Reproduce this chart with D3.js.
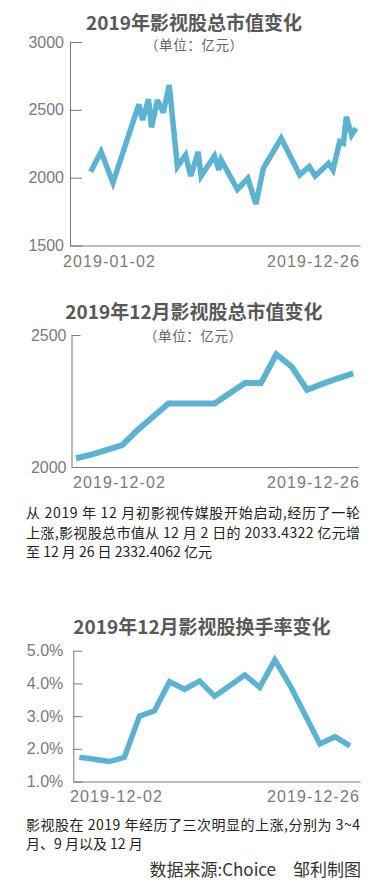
<!DOCTYPE html>
<html><head><meta charset="utf-8">
<script src="https://cdn.jsdelivr.net/npm/d3@7"></script>
<style>
html,body{margin:0;padding:0;background:#fff;}
svg{display:block;}
text{font-family:"Liberation Sans","Noto Sans CJK SC",Arial,sans-serif;}
.cjk{font-family:"Noto Sans CJK SC","Liberation Sans",sans-serif;}
</style>
</head><body>
<script>
// ---------- DATA ----------
const yearDates = ["2019-01-02","2019-01-16","2019-02-01","2019-03-08","2019-03-13","2019-03-21","2019-03-25","2019-04-02","2019-04-10","2019-04-18","2019-04-29","2019-05-10","2019-05-17","2019-05-27","2019-05-31","2019-06-18","2019-06-24","2019-06-27","2019-07-19","2019-08-02","2019-08-13","2019-08-23","2019-09-16","2019-10-11","2019-10-24","2019-11-01","2019-11-19","2019-11-25","2019-12-04","2019-12-09","2019-12-13","2019-12-20","2019-12-26"];
const yearCap = [2044,2191,1963,2541,2425,2578,2371,2572,2479,2683,2081,2167,2012,2191,2012,2160,2057,2130,1914,1995,1806,2069,2290,2020,2081,2012,2106,2057,2265,2253,2449,2315,2364];
const yearTicks = [1500,2000,2500,3000];
const yearXLabels = ["2019-01-02","2019-12-26"];

const decDates = ["12-02","12-03","12-04","12-05","12-06","12-09","12-10","12-11","12-12","12-13","12-16","12-17","12-18","12-19","12-20","12-23","12-24","12-25","12-26"];
const decCap = [2033,2047,2065,2083,2140,2190,2241,2241,2241,2241,2280,2319,2317,2427,2380,2292,2315,2336,2355];
const decCapTicks = [2000,2500];
const decTurnover = [1.74,1.68,1.61,1.74,3.0,3.16,4.05,3.82,4.07,3.61,3.93,4.26,3.88,4.72,3.95,3.05,2.15,2.37,2.09];
const turnoverTicks = [1,2,3,4,5];
const decXLabels = ["2019-12-02","2019-12-26"];

const titles = ["2019年影视股总市值变化","2019年12月影视股总市值变化","2019年12月影视股换手率变化"];
const unitText = "（单位：亿元）";
const note1 = ["从 2019 年 12 月初影视传媒股开始启动,经历了一轮","上涨,影视股总市值从 12 月 2 日的 2033.4322 亿元增","至 12 月 26 日 2332.4062 亿元"];
const note2 = ["影视股在 2019 年经历了三次明显的上涨,分别为 3~4","月、9 月以及 12 月"];
const source = "数据来源:Choice　邹利制图";

// ---------- DRAW ----------
const W = 379, H = 886;
const svg = d3.select("body").append("svg").attr("width", W).attr("height", H);
const lineColor = "#5bb3d1", axisColor = "#7a7a7a", tickText = "#7a7a7a";

function yAxis(g, y, x0, ticks, fmt, pad, inner) {
  const ax = g.append("g").attr("transform", `translate(${x0},0)`)
    .call(d3.axisLeft(y).tickValues(ticks).tickFormat(fmt).tickSizeOuter(0).tickSizeInner(-inner).tickPadding(pad));
  ax.select(".domain").attr("stroke", axisColor);
  ax.selectAll(".tick line").attr("stroke", axisColor);
  ax.selectAll(".tick text").attr("fill", tickText).attr("font-size", 16)
    .style("font-family", "'Liberation Sans',Arial,sans-serif");
}
function xAxisLine(g, x0, x1, yPos, labels, l0, l1, ly) {
  const xs = d3.scaleLinear().domain([0, 1]).range([x0, x1]);
  const ax = g.append("g").attr("transform", `translate(0,${yPos})`)
    .call(d3.axisBottom(xs).tickValues([]).tickSizeOuter(0));
  ax.select(".domain").attr("stroke", axisColor);
  g.append("text").attr("x", l0).attr("y", ly).attr("text-anchor", "start")
    .attr("fill", tickText).attr("font-size", 16).attr("textLength", 92).attr("lengthAdjust", "spacing").text(labels[0]);
  g.append("text").attr("x", l1).attr("y", ly).attr("text-anchor", "end")
    .attr("fill", tickText).attr("font-size", 16).attr("textLength", 92).attr("lengthAdjust", "spacing").text(labels[1]);
}
function title(txt, cx, y) {
  svg.append("text").attr("class", "cjk").attr("x", cx).attr("y", y).attr("text-anchor", "middle")
    .attr("font-size", 19).attr("font-weight", "bold").attr("fill", "#585858").text(txt);
}
function unit(cx, y) {
  svg.append("text").attr("class", "cjk").attr("x", cx).attr("y", y).attr("text-anchor", "middle")
    .attr("font-size", 13.5).attr("fill", "#666").attr("textLength", 98).attr("lengthAdjust", "spacing").text(unitText);
}
function pathOf(xf, yf, vals) {
  return d3.line().x((d, i) => xf(i)).y(d => yf(d)).curve(d3.curveLinear)(vals);
}

// Chart 1
title(titles[0], 194, 30);
unit(194, 49.5);
{
  const g = svg.append("g");
  const parse = d3.timeParse("%Y-%m-%d");
  const dates = yearDates.map(parse);
  const x = d3.scaleTime().domain([dates[0], dates[dates.length - 1]]).range([90.7, 356]);
  const y = d3.scaleLinear().domain([1500, 3000]).range([245.5, 42]);
  yAxis(g, y, 70, yearTicks, d3.format("d"), 6, 12);
  xAxisLine(g, 70, 360, 245.5, yearXLabels, 63, 359, 267);
  g.append("path").attr("d", pathOf(i => x(dates[i]), y, yearCap))
    .attr("fill", "none").attr("stroke", lineColor).attr("stroke-width", 5.5)
    .attr("stroke-linejoin", "miter").attr("stroke-miterlimit", 3);
}

// Chart 2
title(titles[1], 194, 319);
unit(193, 340.5);
{
  const g = svg.append("g");
  const x = d3.scalePoint().domain(decDates).range([76, 353.3]);
  const y = d3.scaleLinear().domain([2000, 2500]).range([467, 335]);
  yAxis(g, y, 71.5, decCapTicks, d3.format("d"), 5, 9);
  xAxisLine(g, 71.5, 358, 467, decXLabels, 73, 359, 488);
  g.append("path").attr("d", pathOf(i => x(decDates[i]), y, decCap))
    .attr("fill", "none").attr("stroke", lineColor).attr("stroke-width", 6)
    .attr("stroke-linejoin", "miter").attr("stroke-miterlimit", 3);
}

// Note 1
note1.forEach((t, i) => {
  const el = svg.append("text").attr("class", "cjk").attr("x", 26).attr("y", 518 + i * 19.5)
    .attr("font-size", 14).attr("fill", "#222").text(t);
  if (i < note1.length - 1) el.attr("textLength", 334).attr("lengthAdjust", "spacing");
});

// Chart 3
title(titles[2], 202, 634);
{
  const g = svg.append("g");
  const x = d3.scalePoint().domain(decDates).range([79.3, 350]);
  const y = d3.scaleLinear().domain([1, 5]).range([781.5, 650.7]);
  yAxis(g, y, 73.3, turnoverTicks, d => d.toFixed(1) + "%", 10, 9);
  xAxisLine(g, 73.3, 360, 781.5, decXLabels, 70, 359, 802);
  g.append("path").attr("d", pathOf(i => x(decDates[i]), y, decTurnover))
    .attr("fill", "none").attr("stroke", lineColor).attr("stroke-width", 5.5)
    .attr("stroke-linejoin", "miter").attr("stroke-miterlimit", 3);
}

// Note 2
note2.forEach((t, i) => {
  const el = svg.append("text").attr("class", "cjk").attr("x", 26).attr("y", 830 + i * 19)
    .attr("font-size", 14).attr("fill", "#222").text(t);
  if (i < note2.length - 1) el.attr("textLength", 334).attr("lengthAdjust", "spacing");
});
svg.append("text").attr("class", "cjk").attr("x", 361).attr("y", 876).attr("text-anchor", "end")
  .attr("font-size", 17).attr("fill", "#333").text(source);
</script>
</body></html>
